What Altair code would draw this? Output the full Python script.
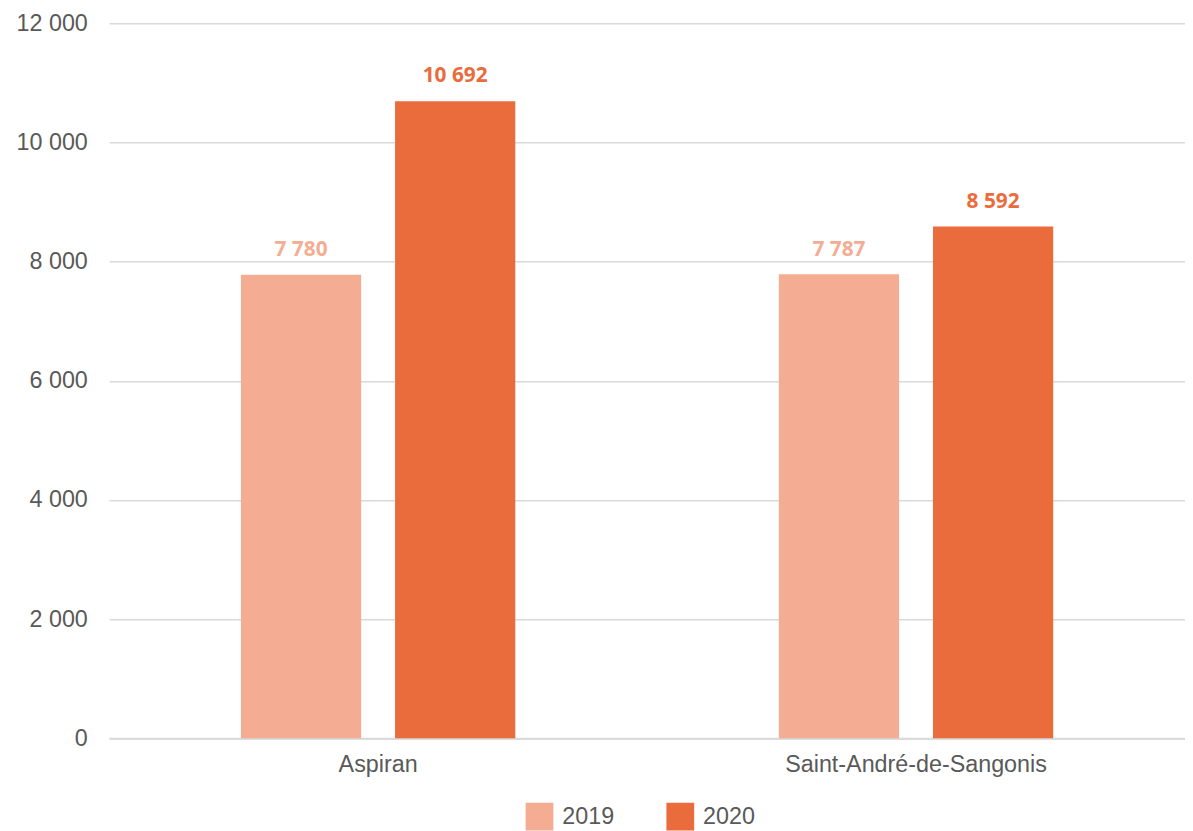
import altair as alt
import pandas as pd

communes = ["Aspiran", "Saint-André-de-Sangonis"]
years = ["2019", "2020"]
values_2019 = [7780, 7787]
values_2020 = [10692, 8592]
colors = ["#F4AD93", "#EA6B3C"]
y_ticks = [0, 2000, 4000, 6000, 8000, 10000, 12000]

rows = []
for c, a, b in zip(communes, values_2019, values_2020):
    rows.append({"commune": c, "year": "2019", "value": a})
    rows.append({"commune": c, "year": "2020", "value": b})
df = pd.DataFrame(rows)

x_enc = alt.X(
    "commune:N",
    sort=communes,
    scale=alt.Scale(paddingInner=0.49, paddingOuter=0.245),
    axis=alt.Axis(
        title=None, labelAngle=0, labelFontSize=23.5, labelColor="#595959",
        labelFont="Liberation Sans", labelPadding=14, ticks=False, labelLimit=1000,
        domainColor="#d9d9d9", domainWidth=2, grid=False,
    ),
)
xoff = alt.XOffset("year:N", sort=years, scale=alt.Scale(paddingInner=0.22))
y_enc = alt.Y(
    "value:Q",
    scale=alt.Scale(domain=[0, 12000], nice=False),
    axis=alt.Axis(
        title=None, values=y_ticks, labelFontSize=23.5, labelColor="#595959",
        labelFont="Liberation Sans", labelPadding=22, ticks=False, domain=False,
        gridColor="#d9d9d9", gridWidth=1.5,
        labelExpr="replace(format(datum.value, ','), ',', ' ')",
    ),
)
color_scale = alt.Scale(domain=years, range=colors)

bars = alt.Chart(df).mark_bar().encode(
    x=x_enc,
    xOffset=xoff,
    y=y_enc,
    color=alt.Color(
        "year:N", scale=color_scale,
        legend=alt.Legend(
            title=None, orient="none", legendX=420, legendY=786,
            direction="horizontal", symbolType="square", symbolSize=784,
            symbolStrokeWidth=0, labelFontSize=23.5, labelColor="#595959",
            labelFont="Liberation Sans", labelOffset=9, columnPadding=52,
            padding=0,
        ),
    ),
)

labels = alt.Chart(df).transform_calculate(
    label="replace(format(datum.value, ','), ',', ' ')"
).mark_text(
    font="Open Sans", fontWeight="bold", fontSize=21, baseline="alphabetic", dy=-19
).encode(
    x=alt.X("commune:N", sort=communes),
    xOffset=alt.XOffset("year:N", sort=years),
    y=alt.Y("value:Q"),
    text="label:N",
    color=alt.Color("year:N", scale=color_scale, legend=None),
)

chart = alt.layer(bars, labels).properties(
    width=1085, height=721,
    autosize=alt.AutoSizeParams(type="none"),
    padding={"left": 102, "top": 12, "right": 0, "bottom": 90},
).configure_view(stroke=None)

chart.save("out.html", embed_options={"renderer": "svg", "actions": False})
